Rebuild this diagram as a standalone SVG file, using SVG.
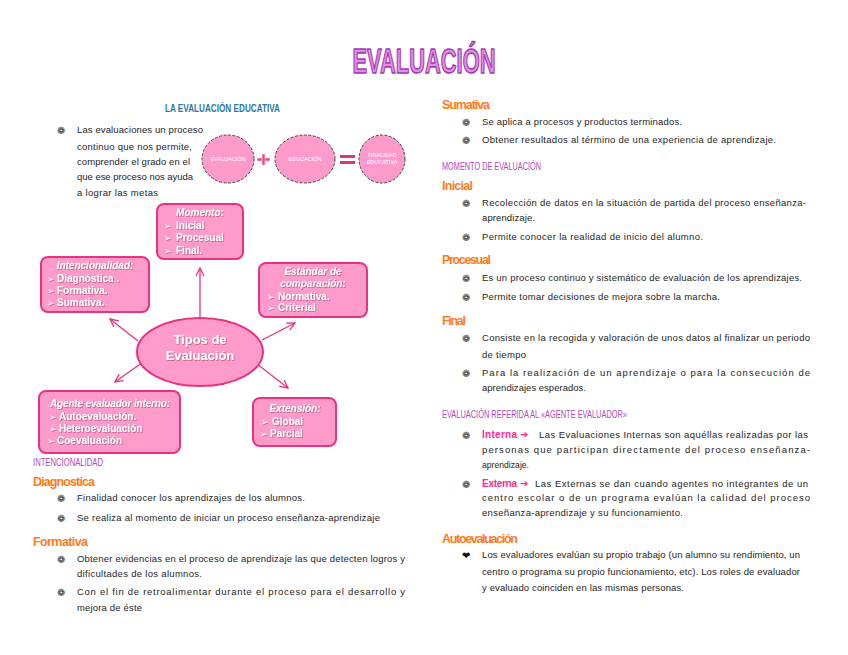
<svg xmlns="http://www.w3.org/2000/svg" width="848" height="655" viewBox="0 0 848 655">
<defs>
<style>
.b{font-family:"Liberation Sans",Arial,sans-serif;font-size:9.5px;fill:#1e1e1e}
.h{font-family:"Liberation Sans",Arial,sans-serif;font-size:12.5px;font-weight:bold;fill:#ff7b1c}
.sc{font-family:"Liberation Sans",Arial,sans-serif;font-size:10.5px;text-transform:uppercase;fill:#b04ac0}
.bu{font-family:"DejaVu Sans",sans-serif;font-size:10px;fill:#333}
.bx{fill:#ff9bcb;stroke:#e8337f;stroke-width:2}
.bt{font-family:"Liberation Sans",Arial,sans-serif;font-size:10px;font-weight:bold;fill:#fff;filter:url(#sh)}
.big{font-size:13px}
.ti{font-style:italic}
.ar{font-family:"DejaVu Sans",sans-serif;font-size:9px;fill:#fff;filter:url(#sh)}
.ci{fill:#ff9bcb;stroke:#444;stroke-width:1;stroke-dasharray:3 1.5}
.ct{font-family:"Liberation Sans",Arial,sans-serif;font-size:5.5px;fill:#fff;text-anchor:middle}
.mg{font-family:"Liberation Sans",Arial,sans-serif;font-size:10px;font-weight:bold;fill:#ff2a8a}
.ma{font-family:"DejaVu Sans",sans-serif;font-size:10px;font-weight:bold;fill:#ff2a8a}
.cn{fill:none;stroke:#e8337f;stroke-width:1.3;marker-end:url(#ah)}
</style>
<filter id="sh" x="-10%" y="-20%" width="130%" height="150%"><feDropShadow dx="0.8" dy="0.8" stdDeviation="0.3" flood-color="#a84a70" flood-opacity="0.8"/></filter>
<marker id="ah" markerUnits="userSpaceOnUse" markerWidth="12" markerHeight="12" refX="9" refY="5" orient="auto"><path d="M1,1 L9,5 L1,9" fill="none" stroke="#e8337f" stroke-width="1.3"/></marker>
</defs>
<rect width="848" height="655" fill="#fff"/>

<text id="title" x="424" y="73" text-anchor="middle" font-family="Liberation Sans,Arial,sans-serif" font-size="35" font-weight="bold" fill="#e38ee6" stroke="#a23bb0" stroke-width="1.6" stroke-linejoin="round" textLength="143" lengthAdjust="spacingAndGlyphs">EVALUACIÓN</text>

<!-- left intro -->
<text x="165" y="112" font-family="Liberation Sans,Arial,sans-serif" font-size="11.5" font-weight="bold" fill="#2f76a6" style="text-transform:uppercase" textLength="115" lengthAdjust="spacingAndGlyphs">La evaluación educativa</text>
<text class="bu" x="57" y="134">❁</text>
<text class="b" x="77" y="133" textLength="126">Las evaluaciones un proceso</text>
<text class="b" x="77" y="150" textLength="115">continuo que nos permite,</text>
<text class="b" x="77" y="165" textLength="113">comprender el grado en el</text>
<text class="b" x="77" y="180" textLength="116">que ese proceso nos ayuda</text>
<text class="b" x="77" y="196" textLength="81">a lograr las metas</text>

<g id="eq">
<g id="c1"><ellipse class="ci" cx="228" cy="159" rx="26" ry="24"/><text class="ct" x="228" y="161">EVALUACIÓN</text></g>
<rect x="257" y="158" width="13" height="3" fill="#f0458a" stroke="#fff" stroke-width="0.5"/>
<rect x="262" y="154" width="3" height="11" fill="#f0458a" stroke="#fff" stroke-width="0.5"/>
<g id="c2"><ellipse class="ci" cx="305" cy="159" rx="30" ry="24"/><text class="ct" x="305" y="161">EDUCACIÓN</text></g>
<rect x="340" y="155" width="15" height="3" fill="#d43680"/>
<rect x="340" y="161" width="15" height="3" fill="#d43680"/>
<g id="c3"><ellipse class="ci" cx="382" cy="159" rx="23" ry="24"/><text class="ct" x="382" y="157">FINALIDAD</text><text class="ct" x="382" y="164">EDUCATIVA</text></g>
</g>

<!-- mind map connectors -->
<g id="connectors">
<line class="cn" x1="200" y1="318" x2="200" y2="268"/>
<line class="cn" x1="138" y1="341" x2="110" y2="319"/>
<line class="cn" x1="262" y1="340" x2="295" y2="323"/>
<line class="cn" x1="143" y1="362" x2="115" y2="382"/>
<line class="cn" x1="257" y1="364" x2="288" y2="388"/>
</g>

<g id="momento">
<rect class="bx" x="157" y="204" width="86" height="55" rx="7"/>
<text class="bt ti" x="200" y="216" text-anchor="middle">Momento:</text>
<text class="ar" x="164" y="229">➢</text><text class="bt" x="176" y="229">Inicial</text>
<text class="ar" x="164" y="241">➢</text><text class="bt" x="176" y="241">Procesual</text>
<text class="ar" x="164" y="254">➢</text><text class="bt" x="176" y="254">Final.</text>
</g>

<g id="intencionalidad">
<rect class="bx" x="41" y="257" width="108" height="55" rx="7"/>
<text class="bt ti" x="95" y="269" text-anchor="middle">Intencionalidad:</text>
<text class="ar" x="47" y="282">➢</text><text class="bt" x="57" y="282">Diagnóstica .</text>
<text class="ar" x="47" y="294">➢</text><text class="bt" x="57" y="294">Formativa.</text>
<text class="ar" x="47" y="306">➢</text><text class="bt" x="57" y="306">Sumativa.</text>
</g>

<g id="estandar">
<rect class="bx" x="259" y="263" width="108" height="54" rx="7"/>
<text class="bt ti" x="313" y="275" text-anchor="middle">Estándar de</text>
<text class="bt ti" x="313" y="287" text-anchor="middle">comparación:</text>
<text class="ar" x="267" y="300">➢</text><text class="bt" x="278" y="300">Normativa.</text>
<text class="ar" x="267" y="311">➢</text><text class="bt" x="278" y="311">Criterial</text>
</g>

<g id="tipos">
<ellipse cx="200" cy="352" rx="63" ry="34" fill="#ff9bcb" stroke="#e8337f" stroke-width="2"/>
<text class="bt big" x="200" y="344" text-anchor="middle">Tipos de</text>
<text class="bt big" x="200" y="360" text-anchor="middle">Evaluación</text>
</g>

<g id="agente">
<rect class="bx" x="39" y="391" width="141" height="62" rx="7"/>
<text class="bt ti" x="110" y="407" text-anchor="middle" textLength="120">Agente evaluador interno:</text>
<text class="ar" x="49" y="420">➢</text><text class="bt" x="59" y="420">Autoevaluación.</text>
<text class="ar" x="49" y="432">➢</text><text class="bt" x="59" y="432">Heteroevaluación</text>
<text class="ar" x="47" y="444">➢</text><text class="bt" x="57" y="444">Coevaluación</text>
</g>

<g id="extension">
<rect class="bx" x="253" y="398" width="83" height="48" rx="7"/>
<text class="bt ti" x="295" y="412" text-anchor="middle">Extensión:</text>
<text class="ar" x="261" y="425">➢</text><text class="bt" x="272" y="425">Global</text>
<text class="ar" x="260" y="437">➢</text><text class="bt" x="270" y="437">Parcial</text>
</g>

<!-- left bottom -->
<text class="sc" x="33" y="466" textLength="70" lengthAdjust="spacingAndGlyphs">Intencionalidad</text>
<text class="h" x="33" y="486" textLength="62">Diagnostica</text>
<text class="bu" x="57" y="502">❁</text>
<text class="b" x="77" y="501" textLength="228">Finalidad conocer los aprendizajes de los alumnos.</text>
<text class="bu" x="57" y="522">❁</text>
<text class="b" x="77" y="521" textLength="303">Se realiza al momento de iniciar un proceso enseñanza-aprendizaje</text>
<text class="h" x="33" y="546" textLength="55">Formativa</text>
<text class="bu" x="57" y="563">❁</text>
<text class="b" x="77" y="562" textLength="328">Obtener evidencias en el proceso de aprendizaje las que detecten logros y</text>
<text class="b" x="77" y="577" textLength="125">dificultades de los alumnos.</text>
<text class="bu" x="57" y="596">❁</text>
<text class="b" x="77" y="595" textLength="328">Con el fin de retroalimentar durante el proceso para el desarrollo y</text>
<text class="b" x="77" y="611" textLength="65">mejora de éste</text>

<!-- right column -->
<text class="h" x="442" y="109" textLength="48">Sumativa</text>
<text class="bu" x="462" y="126">❁</text>
<text class="b" x="482" y="125" textLength="200">Se aplica a procesos y productos terminados.</text>
<text class="bu" x="462" y="144">❁</text>
<text class="b" x="482" y="143" textLength="294">Obtener resultados al término de una experiencia de aprendizaje.</text>
<text class="sc" x="442" y="170" textLength="99" lengthAdjust="spacingAndGlyphs">Momento de evaluación</text>
<text class="h" x="442" y="190" textLength="31">Inicial</text>
<text class="bu" x="462" y="207">❁</text>
<text class="b" x="482" y="206" textLength="324">Recolección de datos en la situación de partida del proceso enseñanza-</text>
<text class="b" x="482" y="221" textLength="53">aprendizaje.</text>
<text class="bu" x="462" y="241">❁</text>
<text class="b" x="482" y="240" textLength="221">Permite conocer la realidad de inicio del alumno.</text>
<text class="h" x="442" y="264" textLength="49">Procesual</text>
<text class="bu" x="462" y="282">❁</text>
<text class="b" x="482" y="281" textLength="320">Es un proceso continuo y sistemático de evaluación de los aprendizajes.</text>
<text class="bu" x="462" y="301">❁</text>
<text class="b" x="482" y="300" textLength="238">Permite tomar decisiones de mejora sobre la marcha.</text>
<text class="h" x="442" y="325" textLength="24">Final</text>
<text class="bu" x="462" y="342">❁</text>
<text class="b" x="482" y="341" textLength="328">Consiste en la recogida y valoración de unos datos al finalizar un periodo</text>
<text class="b" x="482" y="358" textLength="44">de tiempo</text>
<text class="bu" x="462" y="377">❁</text>
<text class="b" x="482" y="376" textLength="328">Para la realización de un aprendizaje o para la consecución de</text>
<text class="b" x="482" y="391" textLength="104">aprendizajes esperados.</text>
<text class="sc" x="442" y="418" textLength="185" lengthAdjust="spacingAndGlyphs">Evaluación referida al «Agente Evaluador»</text>
<text class="bu" x="462" y="439">❁</text>
<text class="mg" x="482" y="438" textLength="35">Interna</text><text class="ma" x="520" y="438">➔</text>
<text class="b" x="539" y="438" textLength="269">Las Evaluaciones Internas son aquéllas realizadas por las</text>
<text class="b" x="482" y="453" textLength="328">personas que participan directamente del proceso enseñanza-</text>
<text class="b" x="482" y="468" textLength="47" lengthAdjust="spacingAndGlyphs">aprendizaje.</text>
<text class="bu" x="462" y="488">❁</text>
<text class="mg" x="482" y="487" textLength="35">Externa</text><text class="ma" x="520" y="487">➔</text>
<text class="b" x="535" y="487" textLength="273">Las Externas se dan cuando agentes no integrantes de un</text>
<text class="b" x="482" y="501" textLength="328">centro escolar o de un programa evalúan la calidad del proceso</text>
<text class="b" x="482" y="516" textLength="201">enseñanza-aprendizaje y su funcionamiento.</text>
<text class="h" x="442" y="543" textLength="76">Autoevaluación</text>
<text x="462" y="559" font-family="DejaVu Sans,sans-serif" font-size="10" fill="#111">❤</text>
<text class="b" x="482" y="558" textLength="318">Los evaluadores evalúan su propio trabajo (un alumno su rendimiento, un</text>
<text class="b" x="482" y="575" textLength="318">centro o programa su propio funcionamiento, etc). Los roles de evaluador</text>
<text class="b" x="482" y="591" textLength="202">y evaluado coinciden en las mismas personas.</text>
</svg>
